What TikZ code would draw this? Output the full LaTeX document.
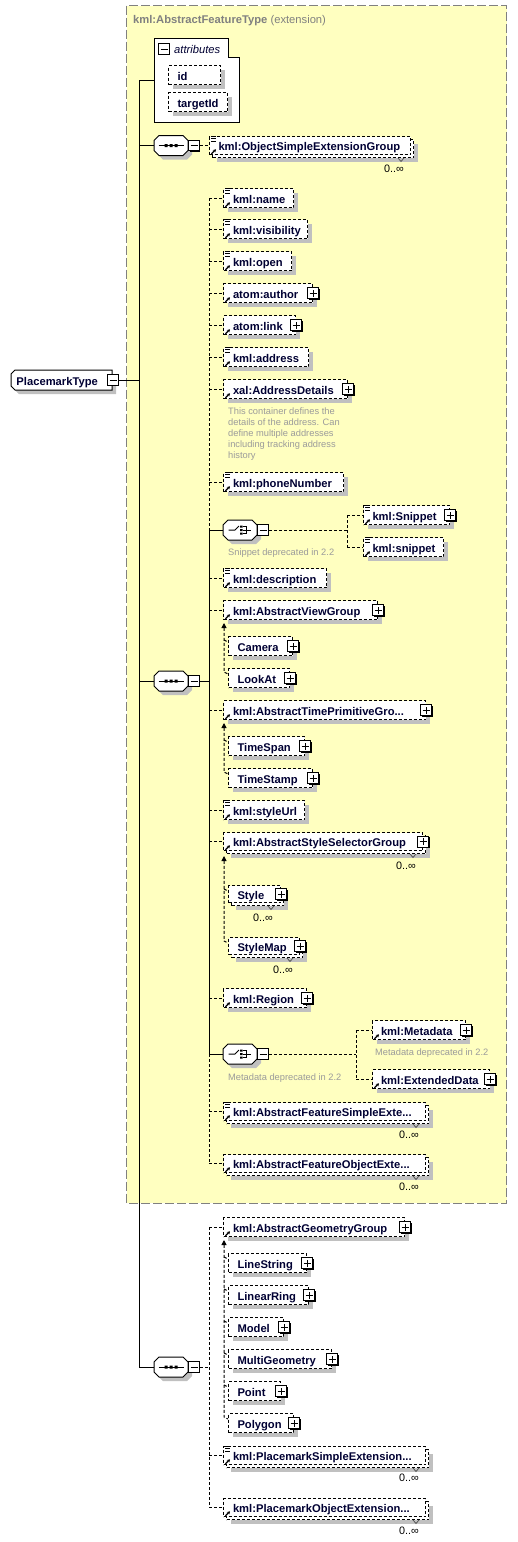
\documentclass[tikz,border=0pt]{standalone}
\usepackage{fontspec}
\setmainfont{Liberation Sans}
\usetikzlibrary{calc,shadows,arrows.meta}
\definecolor{featfill}{HTML}{FFFFC0}
\definecolor{featline}{HTML}{808080}
\definecolor{shade}{HTML}{C0C0C0}
\definecolor{notecol}{HTML}{9B9B9B}
\definecolor{eltext}{HTML}{000033}
\newcommand\elfont{\fontsize{11.2}{13}\selectfont\bfseries}
\newcommand\itfont{\fontsize{11.2}{13}\selectfont\itshape}
\newcommand\notefont{\fontsize{9.3}{11}\selectfont}
\newcommand\occfont{\fontsize{10.8}{12}\selectfont}
\tikzset{
 dsh/.style={dash pattern=on 3pt off 2pt},
 shad/.style={general shadow={fill=shade, shadow xshift=4pt, shadow yshift=-4pt}},
 elembox/.style={draw=black, line width=1pt, dsh, fill=white, inner xsep=0pt, inner ysep=0pt,
   text height=11pt, text depth=1pt, anchor=north west, font=\elfont, text=eltext},
 conn/.style={line width=1pt, black},
 dconn/.style={conn, dsh},
 sgbar/.style={dconn, {Triangle[length=5pt,width=5pt]}-},
 signbox/.style={draw=black, solid, line width=1pt, fill=white, minimum size=11pt, inner sep=0pt,
   general shadow={fill=black, shadow xshift=1pt, shadow yshift=-1pt}},
 plusbox/.style={signbox, path picture={\draw[line width=1pt]
   ([xshift=-3.5pt]path picture bounding box.center) -- ([xshift=3.5pt]path picture bounding box.center)
   ([yshift=-3.5pt]path picture bounding box.center) -- ([yshift=3.5pt]path picture bounding box.center);}},
 minusbox/.style={signbox, minimum size=10.5pt, path picture={\draw[line width=1pt]
   ([xshift=-3.5pt]path picture bounding box.center) -- ([xshift=3.5pt]path picture bounding box.center);}},
 octanchor/.style={minimum width=34pt, minimum height=20pt, inner sep=0pt},
 octline/.style={draw=black, line width=1pt, fill=white, shad},
 iconline/.style={line width=0.9pt, black},
 refarrow/.style={line width=1.2pt, black, -{Stealth[length=3pt,width=3.5pt]}},
 occ/.style={font=\occfont, anchor=base east, inner sep=0pt, text=black},
 occmark/.style={line width=0.7pt, black!70},
 note/.style={font=\notefont, text=notecol, inner sep=0pt, align=left},
}
% element box: [pad]{id}{x1}{y1}{x2}{y2}{text}
\newcommand\ElB[7][9.5]{%
 \pgfmathsetmacro\elw{#5-#3}\pgfmathsetmacro\elh{#6-#4}%
 \node[elembox, shad, minimum height=\elh pt] (#2) at (#3,#4) {\makebox[\elw pt][l]{\hspace{#1pt}#7}};}
% multiple-occurrence element box
\newcommand\ElM[7][9.5]{%
 \pgfmathsetmacro\elw{#5-#3}\pgfmathsetmacro\elh{#6-#4}%
 \node[elembox, shad, minimum height=\elh pt, minimum width=\elw pt] (#2b) at (#3+3,#4+3) {};
 \node[elembox, minimum height=\elh pt] (#2) at (#3,#4) {\makebox[\elw pt][l]{\hspace{#1pt}#7}};}
\newcommand\SimpIc[1]{\draw[iconline] ($(#1.north west)+(2,0)$) -- ++(5,0) ($(#1.north west)+(2,2.5)$) -- ++(5,0) ($(#1.north west)+(2,5)$) -- ++(5,0);}
\newcommand\RefIc[1]{\draw[refarrow] ($(#1.south west)+(2.5,-1.2)$) -- ++(4.5,-4.5);}
\newcommand\PlusIc[1]{\node[plusbox] (#1p) at (#1.east) {};}
\newcommand\OccL[3]{\node[occ] (#1o) at (#2,#3) {0..∞};
 \draw[occmark] ($(#1b.south east)+(-16,0)$) -- ++(3,3.5) -- ++(3,-3.5);}
\newcommand\OctPath{(-12,-10) -- (12,-10) -- (17,-5) -- (17,5) -- (12,10) -- (-12,10) -- (-17,5) -- (-17,-5) -- cycle}
\newcommand\SeqN[3]{%
 \begin{scope}[shift={(#2,#3)}]
  \draw[octline] \OctPath;
  \draw[line width=1pt] (-12.5,0) -- (12.5,0);
  \fill (-6.5,-1.5) rectangle (-3.5,1.5) (-1.5,-1.5) rectangle (1.5,1.5) (3.5,-1.5) rectangle (6.5,1.5);
 \end{scope}
 \node[octanchor] (#1) at (#2,#3) {};
 \node[minusbox] (#1m) at ($(#1.east)+(6,0)$) {};}
\newcommand\ChoN[3]{%
 \begin{scope}[shift={(#2,#3)}]
  \draw[octline] \OctPath;
  \draw[line width=1pt] (-11.5,0) -- (-5,0) -- (-1,-4);
  \fill (0,-4.5) rectangle (2.5,-2.5) (0,-1) rectangle (2.5,1) (0,2.5) rectangle (2.5,4.5);
  \draw[line width=1pt] (3,-3.5) -- (6.5,-3.5) -- (6.5,3.5) -- (3,3.5) (3,0) -- (10.5,0);
 \end{scope}
 \node[octanchor] (#1) at (#2,#3) {};
 \node[minusbox] (#1m) at ($(#1.east)+(6,0)$) {};}
\begin{document}
\begin{tikzpicture}[x=1pt,y=-1pt]
\fill[white] (0,0) rectangle (517,1542);
\useasboundingbox (0,0) rectangle (517,1542);
% extension region
\draw[featline, fill=featfill, line width=1pt, dash pattern=on 9pt off 3pt] (126.5,5.5) rectangle (506.5,1203);
\node[anchor=base west, inner sep=0, font=\elfont, text=featline] (title) at (133,23) {kml:AbstractFeatureType {\mdseries(extension)}};
% attributes
\draw[line width=1pt, fill=white] (154,38) -- (228,38) -- (228,57) -- (239,57) -- (239,122) -- (154,122) -- cycle;
\node[inner sep=0, minimum width=85pt, minimum height=84pt] (attrs) at (196.5,80) {};
\node[minusbox] (attrsm) at (164,49) {};
\node[anchor=base west, inner sep=0, font=\itfont, text=eltext] (attrlabel) at (174,53) {attributes};
\ElB[9]{aid}{168}{65}{220}{84}{id}
\ElB[9]{atid}{168}{92}{227}{111}{targetId}
% root
\draw[line width=1pt, fill=white, shad] (15,370) -- (112,370) -- (112,390) -- (15,390) -- (11,386) -- (11,374) -- cycle;
\node[elembox, draw=none, fill=none, minimum height=20pt, anchor=west] (pm) at (11,380) {\makebox[101pt][l]{\hspace{5pt}PlacemarkType}};
\node[minusbox] (pmm) at (pm.east) {};
% sequences
\SeqN{seq1}{171}{145.5}
\SeqN{seq2}{171}{681}
\SeqN{seq3}{171}{1367}
% seq1 child
\ElM[9]{ose}{209}{136}{410}{154}{kml:ObjectSimpleExtensionGroup}
\SimpIc{ose}\RefIc{ose}\OccL{ose}{404}{172}
% seq2 children
\ElB{kname}{223}{188}{293}{207}{kml:name}\SimpIc{kname}\RefIc{kname}
\ElB{kvis}{223}{219}{307}{238}{kml:visibility}\SimpIc{kvis}\RefIc{kvis}
\ElB{kopen}{223}{251}{291}{270}{kml:open}\SimpIc{kopen}\RefIc{kopen}
\ElB{author}{223}{283}{312}{302}{atom:author}\RefIc{author}\PlusIc{author}
\ElB{link}{223}{315}{295}{334}{atom:link}\RefIc{link}\PlusIc{link}
\ElB{kaddr}{223}{347}{308}{366}{kml:address}\SimpIc{kaddr}\RefIc{kaddr}
\ElB{xad}{223}{379}{347}{398}{xal:AddressDetails}\RefIc{xad}\PlusIc{xad}
\node[note, anchor=north west] (xadnote) at (228,407.2) {This container defines the\\details of the address. Can\\define multiple addresses\\including tracking address\\history};
\ElB{kphone}{223}{472}{343}{491}{kml:phoneNumber}\SimpIc{kphone}\RefIc{kphone}
\ChoN{ch1}{240}{530}
\node[note, anchor=base west] (ch1note) at (228,555) {Snippet deprecated in 2.2};
\ElB[9]{Snip}{363}{505}{449}{524}{kml:Snippet}\SimpIc{Snip}\RefIc{Snip}\PlusIc{Snip}
\ElB[9]{snip}{363}{537}{443}{556}{kml:snippet}\SimpIc{snip}\RefIc{snip}
\ElB{kdesc}{223}{568}{326}{587}{kml:description}\SimpIc{kdesc}\RefIc{kdesc}
\ElB{avg}{223}{600}{377}{619}{kml:AbstractViewGroup}\RefIc{avg}\PlusIc{avg}
\ElB[9]{camera}{228}{636}{292}{655}{Camera}\PlusIc{camera}
\ElB[9]{lookat}{228}{668}{289}{687}{LookAt}\PlusIc{lookat}
\ElB{atp}{223}{700}{425}{719}{kml:AbstractTimePrimitiveGro...}\RefIc{atp}\PlusIc{atp}
\ElB[9]{tspan}{228}{736}{304}{755}{TimeSpan}\PlusIc{tspan}
\ElB[9]{tstamp}{228}{768}{312}{787}{TimeStamp}\PlusIc{tstamp}
\ElB{surl}{223}{800}{304}{819}{kml:styleUrl}\SimpIc{surl}\RefIc{surl}
\ElM{ssg}{223}{832}{422}{850}{kml:AbstractStyleSelectorGroup}\RefIc{ssg}\PlusIc{ssg}\OccL{ssg}{416}{869}
\ElM[9]{style}{228}{885}{280}{902}{Style}\PlusIc{style}\OccL{style}{273}{921}
\ElM[9]{stylemap}{228}{937}{299}{954}{StyleMap}\PlusIc{stylemap}\OccL{stylemap}{293}{973}
\ElB{region}{223}{988}{306}{1007}{kml:Region}\RefIc{region}\PlusIc{region}
\ChoN{ch2}{240}{1054}
\node[note, anchor=base west] (ch2note) at (228,1080) {Metadata deprecated in 2.2};
\ElB[8.5]{meta}{372}{1020}{465}{1039}{kml:Metadata}\RefIc{meta}\PlusIc{meta}
\node[note, anchor=base west] (metanote) at (375,1055) {Metadata deprecated in 2.2};
\ElB[8.5]{extd}{372}{1069}{489}{1088}{kml:ExtendedData}\RefIc{extd}\PlusIc{extd}
\ElM{fse}{223}{1102}{425}{1120}{kml:AbstractFeatureSimpleExte...}\SimpIc{fse}\RefIc{fse}\OccL{fse}{419}{1138}
\ElM{foe}{223}{1154}{425}{1172}{kml:AbstractFeatureObjectExte...}\RefIc{foe}\OccL{foe}{419}{1190}
% seq3 children
\ElB{agg}{223}{1217}{404}{1236}{kml:AbstractGeometryGroup}\RefIc{agg}\PlusIc{agg}
\ElB[9]{ls}{228}{1253}{306}{1272}{LineString}\PlusIc{ls}
\ElB[9]{lr}{228}{1285}{308}{1304}{LinearRing}\PlusIc{lr}
\ElB[9]{model}{228}{1317}{283}{1336}{Model}\PlusIc{model}
\ElB[9]{mg}{228}{1349}{331}{1368}{MultiGeometry}\PlusIc{mg}
\ElB[9]{point}{228}{1381}{280}{1400}{Point}\PlusIc{point}
\ElB[9]{poly}{228}{1413}{293}{1432}{Polygon}\PlusIc{poly}
\ElM{pse}{223}{1446}{425}{1464}{kml:PlacemarkSimpleExtension...}\SimpIc{pse}\RefIc{pse}\OccL{pse}{419}{1481}
\ElM{poe}{223}{1498}{425}{1516}{kml:PlacemarkObjectExtension...}\RefIc{poe}\OccL{poe}{419}{1534}
% ---- connectors ----
\coordinate (mx) at (139,0);
\coordinate (s2x) at (209,0);
\coordinate (c1x) at (347,0);
\coordinate (c2x) at (356,0);
\draw[conn] (pmm.east) -- (mx |- pmm.east);
\draw[conn] (mx |- attrs.west) -- (mx |- seq3.west);
\draw[conn] (mx |- attrs.west) -- (attrs.west);
\foreach \s in {seq1,seq2,seq3} \draw[conn] (mx |- \s.west) -- (\s.west);
\draw[dconn] (seq1m.east) -- (seq1m.east -| ose.west);
% seq2
\draw[conn] (seq2m.east) -- (s2x |- seq2m.east);
\draw[dconn] (s2x |- kname.west) -- (s2x |- ch1.west);
\draw[conn] (s2x |- ch1.west) -- (s2x |- ch2.west);
\draw[dconn] (s2x |- ch2.west) -- (s2x |- foe.west);
\foreach \n in {kname,kvis,kopen,author,link,kaddr,xad,kphone,kdesc,avg,atp,surl,ssg,region,fse,foe}
  \draw[dconn] (s2x |- \n.west) -- (\n.west);
\draw[conn] (s2x |- ch1.west) -- (ch1.west);
\draw[conn] (s2x |- ch2.west) -- (ch2.west);
% choices
\draw[dconn] (ch1m.east) -- (c1x |- ch1m.east);
\draw[dconn] (c1x |- Snip.west) -- (c1x |- snip.west);
\draw[dconn] (c1x |- Snip.west) -- (Snip.west);
\draw[dconn] (c1x |- snip.west) -- (snip.west);
\draw[dconn] (ch2m.east) -- (c2x |- ch2m.east);
\draw[dconn] (c2x |- meta.west) -- (c2x |- extd.west);
\draw[dconn] (c2x |- meta.west) -- (meta.west);
\draw[dconn] (c2x |- extd.west) -- (extd.west);
% seq3
\draw[dconn] (seq3m.east) -- (s2x |- seq3m.east);
\draw[dconn] (s2x |- agg.west) -- (s2x |- poe.west);
\foreach \n in {agg,pse,poe} \draw[dconn] (s2x |- \n.west) -- (\n.west);
% substitution groups
\draw[sgbar] ($(avg.south west)+(1,3)$) -- ($(lookat.north west)+(-4,4)$) -- ($(lookat.north west)+(0,6)$);
\draw[dconn] ($(camera.north west)+(-4,4)$) -- ($(camera.north west)+(0,6)$);
\draw[sgbar] ($(atp.south west)+(1,3)$) -- ($(tstamp.north west)+(-4,4)$) -- ($(tstamp.north west)+(0,6)$);
\draw[dconn] ($(tspan.north west)+(-4,4)$) -- ($(tspan.north west)+(0,6)$);
\draw[sgbar] ($(ssg.south west)+(1,5)$) -- ($(stylemap.north west)+(-4,4)$) -- ($(stylemap.north west)+(0,6)$);
\draw[dconn] ($(style.north west)+(-4,4)$) -- ($(style.north west)+(0,6)$);
\draw[sgbar] ($(agg.south west)+(1,3)$) -- ($(poly.north west)+(-4,4)$) -- ($(poly.north west)+(0,6)$);
\foreach \n in {ls,lr,model,mg,point} \draw[dconn] ($(\n.north west)+(-4,4)$) -- ($(\n.north west)+(0,6)$);
\end{tikzpicture}
\end{document}
